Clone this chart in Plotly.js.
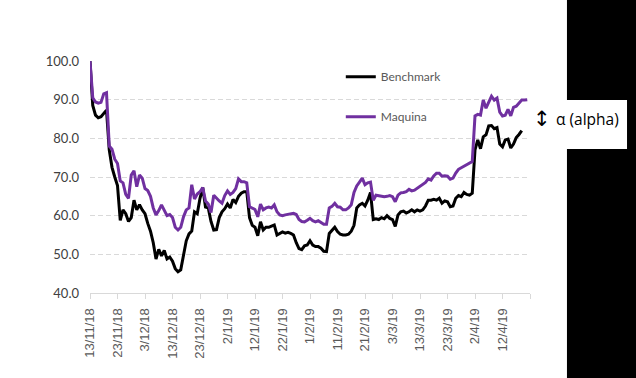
<!DOCTYPE html>
<html>
<head>
<meta charset="utf-8">
<script src="https://cdn.plot.ly/plotly-3.0.1.min.js"></script>
<style>
html,body{margin:0;padding:0;background:#ffffff;}
#chart{width:636px;height:378px;}
</style>
</head>
<body>
<div id="chart"></div>
<script>
// Daily series starting 13/11/2018, one value per calendar day
const startDate = '2018-11-13';
const dayStepMs = 86400000;

const benchmark = [
  100, 88.5, 86, 85.3, 85.6, 86.5, 87.3, 77, 72.5, 70,
  67.8, 58.8, 61.5, 60.5, 58.5, 59.5, 64, 61.5, 62.8, 61.5,
  60.5, 58, 56, 53, 48.8, 51.3, 49.6, 51, 48.8, 49.3,
  48.2, 46.3, 45.5, 46, 49.5, 53.5, 55.3, 56, 61, 60.5,
  64.5, 67.3, 62.2, 62, 58.5, 56.3, 56.4, 59.5, 61, 61.8,
  63, 62, 64.2, 63.4, 65, 65.8, 66.2, 66.2, 59.5, 57.5,
  57, 54.8, 58.4, 56.3, 57, 57, 57.3, 57.6, 55, 55.4,
  55.8, 55.5, 55.7, 55.4, 55, 53, 51.5, 51.2, 52.2, 52.4,
  53.5, 52.4, 52, 52, 51.6, 50.8, 50.7, 55.4, 56.3, 57,
  55.9, 55.2, 55, 55, 55.2, 56, 57.5, 62, 62.8, 63.2,
  62.5, 64, 66, 59, 59.2, 59, 59.5, 59.2, 60, 59.3,
  59, 57.2, 60.2, 61, 61.2, 60.7, 61, 61.5, 61, 61.5,
  61.2, 61.5, 62.5, 64, 64, 64.2, 64, 64.5, 63.2, 63.8,
  63.6, 62.3, 62.5, 64.5, 65.2, 64.9, 66, 65.5, 65.3, 65.8,
  77, 79.6, 77.3, 80.4, 80.9, 83.2, 83.3, 82.5, 82.8, 78.5,
  77.8, 79.6, 79.8, 77.5, 78.5, 80.2, 81, 82
];

const maquina = [
  100, 90.5, 89.4, 89.1, 89.3, 91.5, 91.8, 78, 77.2, 74.6,
  73.5, 69, 68.5, 65.5, 64.5, 70.5, 71.6, 67.5, 70.5, 69.7,
  67, 66.5, 65, 62, 60.2, 61.3, 62.8, 61.5, 60, 60.3,
  59.5, 57, 56.3, 57, 59.7, 61.5, 62, 68, 64.3, 65.6,
  66.2, 67.3, 63.8, 63, 60.8, 65.3, 64.5, 63.8, 63.2, 65.2,
  66.4, 65.5, 66, 67, 69.5, 68.8, 68.8, 68.5, 62.3, 62,
  61.6, 59.7, 63, 61.5, 62, 62.2, 62, 62.8, 61, 60.2,
  60, 60.2, 60.3, 60.5, 60.6, 60.3, 59, 58.5, 58.4, 58.8,
  59.3, 58.7, 58.4, 58.7, 58.3, 57.8, 57.8, 62, 62.4, 63.2,
  62.3, 62.2, 61.5, 61.5, 62, 62.8, 66, 67.7, 68.7, 69.7,
  68, 68.5, 68.7, 64, 65.3, 65.2, 65, 64.9, 65, 65.2,
  64.9, 63.6, 65.3, 65.9, 66, 66.2, 66.8, 66.4, 66.6, 67.1,
  67.6, 68, 68.6, 69.5, 69.2, 70.3, 71, 71, 70.2, 70.3,
  70.2, 69.4, 69.7, 71, 72, 72.4, 72.8, 73, 73.4, 74,
  85.8, 86.2, 86, 89.9, 87.8, 89.5, 90.9, 89.9, 90.4, 86.8,
  85.8, 86, 87.5, 85.8, 88, 88.3, 89, 89.9, 89.9, 90
];

const tickDates = ['2018-11-13','2018-11-23','2018-12-03','2018-12-13','2018-12-23',
  '2019-01-02','2019-01-12','2019-01-22','2019-02-01','2019-02-11','2019-02-21',
  '2019-03-03','2019-03-13','2019-03-23','2019-04-02','2019-04-12','2019-04-22'];
const tickLabels = ['13/11/18','23/11/18','3/12/18','13/12/18','23/12/18',
  '2/1/19','12/1/19','22/1/19','1/2/19','11/2/19','21/2/19',
  '3/3/19','13/3/19','23/3/19','2/4/19','12/4/19',''];

const yTicks = [40, 50, 60, 70, 80, 90, 100];
const seriesNames = ['Benchmark', 'Maquina'];
const alphaLabel = 'α (alpha)';

const traces = [
  {
    type: 'scatter', mode: 'lines', name: seriesNames[0],
    x0: startDate, dx: dayStepMs, y: benchmark,
    line: {color: '#000000', width: 3},
    legendgroup: 'b'
  },
  {
    type: 'scatter', mode: 'lines', name: seriesNames[1],
    x0: startDate, dx: dayStepMs, y: maquina,
    line: {color: '#7030A0', width: 3},
    legendgroup: 'm'
  }
];

const layout = {
  width: 636, height: 378,
  margin: {l: 90, r: 106, t: 61, b: 85, pad: 0},
  paper_bgcolor: '#ffffff', plot_bgcolor: '#ffffff',
  showlegend: true,
  legend: {
    x: 0.57, y: 0.995, xanchor: 'left', yanchor: 'top',
    bgcolor: 'rgba(0,0,0,0)',
    font: {family: 'Lato', size: 12, color: '#595959'},
    traceorder: 'grouped', tracegroupgap: 21,
    itemwidth: 30
  },
  xaxis: {
    type: 'date',
    range: ['2018-11-13', '2019-04-22'],
    tickmode: 'array', tickvals: tickDates, ticktext: tickLabels,
    tickangle: -90,
    ticks: 'outside', ticklen: 5, tickcolor: '#d9d9d9', tickwidth: 1,
    showline: true, linecolor: '#d9d9d9', linewidth: 1,
    showgrid: false, zeroline: false,
    tickfont: {family: 'Liberation Sans', size: 13, color: '#595959'},
    ticklabelstandoff: 4
  },
  yaxis: {
    range: [40, 100],
    tickmode: 'array', tickvals: yTicks,
    tickformat: '.1f',
    showgrid: true, gridcolor: '#d9d9d9', gridwidth: 1, griddash: '5px,3px',
    zeroline: false, showline: false,
    ticks: '',
    tickfont: {family: 'Lato', size: 13, color: '#404040'},
    ticklabelstandoff: 10
  },
  shapes: [
    {type: 'rect', xref: 'paper', yref: 'paper', x0: 1.084, x1: 1.3, y0: -0.5, y1: 1.4,
     fillcolor: '#000000', line: {width: 0}, layer: 'above'},
    {type: 'rect', xref: 'paper', yref: 'paper', x0: 1.05, x1: 1.2205, y0: 0.621, y1: 0.832,
     fillcolor: '#ffffff', line: {width: 0}, layer: 'above'}
  ],
  annotations: [
    {xref: 'paper', yref: 'paper', x: 1.003, y: 0.752, xanchor: 'left', yanchor: 'middle',
     text: '↕', showarrow: false,
     font: {family: 'DejaVu Sans', size: 21, color: '#000000'}},
    {xref: 'paper', yref: 'paper', x: 1.054, y: 0.752, xanchor: 'left', yanchor: 'middle',
     text: alphaLabel, showarrow: false,
     font: {family: 'Open Sans', size: 15.5, color: '#000000'}}
  ]
};

Plotly.newPlot('chart', traces, layout, {displayModeBar: false, staticPlot: true});
</script>
</body>
</html>
